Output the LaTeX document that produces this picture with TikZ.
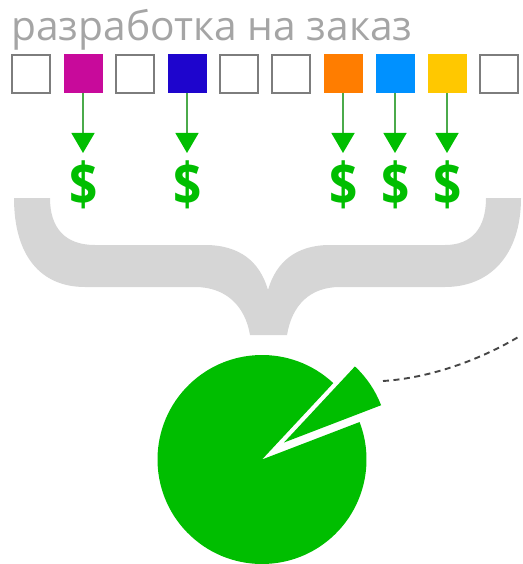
\documentclass[tikz,border=0pt]{standalone}
\usepackage{fontspec}
\setmainfont{Open Sans}
\usetikzlibrary{arrows.meta,calc}
\definecolor{pie}{RGB}{0,190,0}
\definecolor{shaft}{RGB}{75,170,75}
\definecolor{bracec}{RGB}{214,214,214}
\definecolor{framec}{RGB}{125,125,125}
\definecolor{titlec}{RGB}{165,165,165}
\tikzset{
  sq/.style={minimum size=38pt,inner sep=0pt,outer sep=0pt,anchor=center},
  emptysq/.style={sq,draw=framec,line width=2.4pt,fill=white},
  fullsq/.style={sq,minimum size=39pt},
  dollar/.style={text=pie,font=\fontsize{59}{59}\selectfont\bfseries,inner sep=0pt,anchor=center,xscale=.84},
  pay/.style={draw=shaft,line width=1.5pt,-{Triangle[width=23pt,length=20pt,color=pie]},shorten >=1pt}
}
\begin{document}
\begin{tikzpicture}[x=1pt,y=-1pt]
\useasboundingbox (0,0) rectangle (522,564);
\node[text=titlec,font=\fontsize{40.7}{40.7}\selectfont,anchor=base west,inner sep=0pt] (title) at (11,41) {разработка на заказ};
\node[emptysq] (s1) at (31,74) {};
\node[fullsq,fill={rgb,255:red,200;green,10;blue,155}] (s2) at (83,74) {};
\node[emptysq] (s3) at (135,74) {};
\node[fullsq,fill={rgb,255:red,30;green,5;blue,205}] (s4) at (187,74) {};
\node[emptysq] (s5) at (239,74) {};
\node[emptysq] (s6) at (291,74) {};
\node[fullsq,fill={rgb,255:red,255;green,125;blue,0}] (s7) at (343,74) {};
\node[fullsq,fill={rgb,255:red,0;green,145;blue,255}] (s8) at (395,74) {};
\node[fullsq,fill={rgb,255:red,255;green,200;blue,0}] (s9) at (447,74) {};
\node[emptysq] (s10) at (499,74) {};
\foreach \n/\x in {2/84,4/188,7/344,8/396,9/448}{
  \node[dollar] (d\n) at (\x,185) {\$};
}
\foreach \n/\x in {2/83,4/187,7/343,8/395,9/447}{
  \coordinate (t\n) at (\x,154);
  \draw[pay] (s\n.south) -- (t\n);
}
% brace
\fill[bracec] (14,198) -- (50,198)
  .. controls (50,228) and (65,245) .. (95,245)
  -- (205,245)
  .. controls (240,245) and (260,262) .. (268,290)
  .. controls (276,262) and (296,245) .. (330,245)
  -- (445,245)
  .. controls (472,245) and (486,228) .. (486,198)
  -- (521,198)
  .. controls (521,255) and (490,287) .. (445,287)
  -- (340,287)
  .. controls (310,287) and (292,305) .. (287,335)
  -- (250,335)
  .. controls (245,305) and (225,287) .. (195,287)
  -- (85,287)
  .. controls (40,287) and (14,255) .. (14,198) -- cycle;
% pie
\coordinate (c) at (262,459.5);
\fill[pie] (c) -- ($(c)+(47:104.5 and -104.5)$) arc[start angle=-47,end angle=-381,radius=104.5] -- cycle;
\coordinate (e) at (284,442.5);
\fill[pie] (e) -- ($(e)+(47:104 and -104)$) arc[start angle=-47,end angle=-21,radius=104] -- cycle;
% dashed
\coordinate (a) at (383,381);
\coordinate (b) at (520,336);
\draw[color={rgb,255:red,70;green,70;blue,70},line width=1.9pt,dash pattern=on 6pt off 4.5pt] (a) .. controls (430,378) and (480,360) .. (b);
\end{tikzpicture}
\end{document}
